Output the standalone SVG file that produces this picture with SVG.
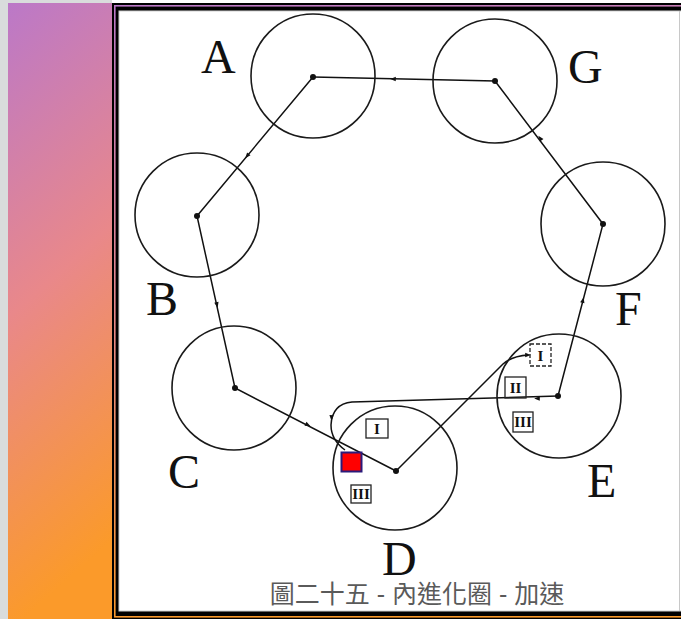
<svg xmlns="http://www.w3.org/2000/svg" xmlns:xlink="http://www.w3.org/1999/xlink" width="681" height="619" viewBox="0 0 681 619">
<style>
.c{fill:none;stroke:#1a1a1a;stroke-width:1.6}
.ln{fill:none;stroke:#111;stroke-width:1.5}
.lbl{font-family:"Liberation Serif","DejaVu Serif",serif;font-size:48px;fill:#111}
.num{font-family:"Liberation Serif","DejaVu Serif",serif;font-size:15px;font-weight:bold;fill:#111;text-anchor:middle}
.box{fill:none;stroke:#222;stroke-width:1.3}
.cap{font-family:"Liberation Sans","Noto Sans CJK TC",sans-serif;font-size:25px;fill:#5a5a5a;text-anchor:middle}
</style>
<defs>
<linearGradient id="g" x1="0" y1="0" x2="0.15" y2="1">
<stop offset="0" stop-color="#bb78c8"/>
<stop offset="0.5" stop-color="#e9888a"/>
<stop offset="1" stop-color="#fb9a2a"/>
</linearGradient>
<path id="arr" d="M-2.8,-2.2 L2.8,0 L-2.8,2.2 Z" fill="#111"/>
</defs>
<rect x="0" y="0" width="681" height="619" fill="#ffffff"/>
<rect x="0" y="0" width="112" height="619" fill="#d9dcdc"/>
<rect x="8" y="3" width="104" height="616" fill="url(#g)"/>
<rect x="112" y="3" width="580" height="616" fill="#000"/>
<rect x="114.8" y="5.8" width="575" height="611" fill="none" stroke="url(#g)" stroke-width="1.6"/>
<rect x="119" y="11" width="570" height="600" fill="#fff" stroke="#cfcfcf" stroke-width="1"/>
<line x1="679.5" y1="11" x2="679.5" y2="611" stroke="#c8c8c8" stroke-width="1"/>

<g id="connectors">
<path class="ln" d="M313,77 L197,216 L235,388 L396,471"/>
<path class="ln" d="M396,471 L503,364 Q512,356 528,355"/>
<path class="ln" d="M558,396 L352,402 Q332,404 331,425 Q331,440 345,450"/>
<path class="ln" d="M558,396 L603,224 L495,81 L313,77"/>
<use xlink:href="#arr" transform="translate(247,156) rotate(129.8)"/>
<use xlink:href="#arr" transform="translate(217,305) rotate(77.5)"/>
<use xlink:href="#arr" transform="translate(308,425) rotate(27.3)"/>
<use xlink:href="#arr" transform="translate(528,355) rotate(0)"/>
<use xlink:href="#arr" transform="translate(537,398.5) rotate(181)"/>
<use xlink:href="#arr" transform="translate(331.5,418) rotate(92)"/>
<use xlink:href="#arr" transform="translate(583,300) rotate(-75.3)"/>
<use xlink:href="#arr" transform="translate(540,138) rotate(-127)"/>
<use xlink:href="#arr" transform="translate(393,79) rotate(181.3)"/>
</g>

<g id="A"><circle class="c" cx="313" cy="76" r="62"/><circle cx="313" cy="77" r="3" fill="#111"/><text class="lbl" x="201" y="73">A</text></g>
<g id="G"><circle class="c" cx="495" cy="81" r="62"/><circle cx="495" cy="81" r="3" fill="#111"/><text class="lbl" x="568" y="83">G</text></g>
<g id="F"><circle class="c" cx="603" cy="224" r="62"/><circle cx="603" cy="224" r="3" fill="#111"/><text class="lbl" x="615" y="325">F</text></g>
<g id="B"><circle class="c" cx="197" cy="215" r="62"/><circle cx="197" cy="216" r="3" fill="#111"/><text class="lbl" x="146" y="315">B</text></g>
<g id="C"><circle class="c" cx="234" cy="388" r="62"/><circle cx="235" cy="388" r="3" fill="#111"/><text class="lbl" x="168" y="488">C</text></g>
<g id="D"><circle class="c" cx="395" cy="468" r="62"/><circle cx="396" cy="471" r="3" fill="#111"/><text class="lbl" x="382" y="575">D</text>
<rect class="box" x="366" y="419" width="22" height="19"/><text class="num" x="377" y="434">I</text>
<rect class="box" x="351" y="485" width="20" height="18"/><text class="num" x="361" y="499">III</text>
<rect x="341.5" y="452.5" width="20" height="19" fill="#f00" stroke="#2a1a7a" stroke-width="2"/></g>
<g id="E"><circle class="c" cx="559" cy="396" r="62"/><circle cx="558" cy="396" r="3" fill="#111"/><text class="lbl" x="587" y="497">E</text>
<rect class="box" x="530" y="344" width="21" height="22" stroke-dasharray="4,2"/><text class="num" x="540.5" y="361">I</text>
<rect class="box" x="505" y="377" width="21" height="21"/><text class="num" x="515.5" y="393">II</text>
<rect class="box" x="513" y="412" width="20" height="20"/><text class="num" x="523" y="427">III</text></g>

<text class="cap" x="417" y="603">圖二十五 - 內進化圈 - 加速</text>
</svg>
